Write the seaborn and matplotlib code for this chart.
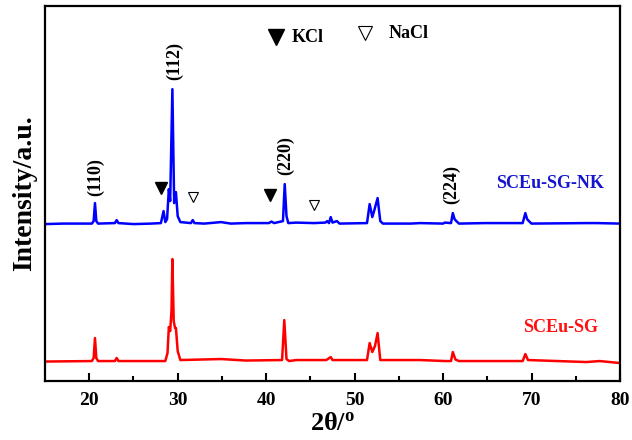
import numpy as np
import pandas as pd
import matplotlib
matplotlib.use("Agg")
import matplotlib.pyplot as plt
import seaborn as sns

# XRD patterns (2theta in degrees, intensity in a.u.)
nk_2theta = [15.0, 17.0, 20.3, 20.5, 20.65, 20.8, 21.0, 22.9, 23.1, 23.3, 25.0, 27.0,
             28.1, 28.4, 28.6, 28.8, 29.0, 29.15, 29.4, 29.6, 29.8, 30.0, 30.3, 31.5,
             31.7, 31.9, 33.0, 34.9, 36.0, 37.7, 40.3, 40.6, 40.9, 41.9, 42.1, 42.3,
             42.5, 43.4, 45.4, 46.7, 46.9, 47.1, 47.3, 47.5, 48.0, 48.3, 51.4, 51.7,
             52.0, 52.2, 52.6, 52.9, 53.2, 56.3, 57.4, 60.0, 60.2, 60.9, 61.1, 61.3,
             61.5, 61.8, 64.7, 69.0, 69.3, 69.5, 69.7, 70.0, 76.2, 77.4, 80.0]
nk_int = [157, 157.5, 157.5, 160, 178, 160, 157.5, 158, 161, 158, 157, 157.5,
          158, 170, 159, 162, 192, 180, 292, 178, 189, 165, 159, 158,
          161, 158, 157.5, 159, 157.5, 158, 158, 159.5, 158, 160, 197, 165,
          158, 158.5, 158, 158.5, 160, 158, 164, 158.5, 160, 157.5, 158, 177,
          164, 170, 183, 160, 157.5, 157.5, 158, 157.5, 158.5, 158, 168, 162,
          160, 157.5, 158, 158, 168, 162, 160, 157.5, 158, 158, 157.5]

sg_2theta = [15.0, 20.3, 20.5, 20.65, 20.8, 21.0, 22.9, 23.1, 23.3, 28.6, 28.85, 29.0,
             29.15, 29.3, 29.4, 29.55, 29.7, 29.8, 30.0, 30.3, 34.9, 37.7, 41.8, 42.05,
             42.3, 42.6, 43.4, 46.8, 47.3, 47.5, 48.1, 51.4, 51.7, 52.0, 52.3, 52.6,
             52.9, 57.4, 60.2, 60.9, 61.1, 61.4, 61.8, 69.0, 69.3, 69.6, 76.2, 77.7, 80.0]
sg_int = [19.5, 20, 23, 43, 23, 20, 20, 23, 20, 20, 28, 54,
          50, 70, 122, 60, 53, 53, 30, 21, 22, 20.5, 21, 61,
          22, 20, 21, 21, 24, 21, 21, 21, 38, 29, 35, 48,
          21, 21, 20, 20, 29, 21.5, 20, 20, 27, 21, 19, 20, 18]

# peak labels and phase markers
hkl_labels = ["(110)", "(112)", "(220)", "(224)"]
hkl_pos = [(20.75, 204), (29.65, 320), (42.2, 226), (61.0, 197)]
kcl_pos = [(28.1, 193), (40.4, 186)]
nacl_pos = [(31.7, 184), (45.4, 176)]

df = pd.concat([
    pd.DataFrame({"2theta": nk_2theta, "I": nk_int, "sample": "SCEu-SG-NK"}),
    pd.DataFrame({"2theta": sg_2theta, "I": sg_int, "sample": "SCEu-SG"}),
])

sns.set_style("ticks")
plt.rcParams['font.family'] = ['Liberation Serif', 'DejaVu Serif']
plt.rcParams['font.weight'] = 'bold'
plt.rcParams['mathtext.default'] = 'regular'
plt.rcParams['text.color'] = 'black'
plt.rcParams['axes.labelcolor'] = 'black'
plt.rcParams['xtick.color'] = 'black'
plt.rcParams['axes.edgecolor'] = 'black'

fig = plt.figure(figsize=(6.32, 4.40), dpi=100)
ax = fig.add_axes([0.0712, 0.134, 0.9098, 0.852])

sns.lineplot(data=df, x="2theta", y="I", hue="sample", sort=False,
             palette={"SCEu-SG-NK": "#0000ff", "SCEu-SG": "#ff0000"},
             linewidth=1.8, legend=False, ax=ax, estimator=None)

ax.set_xlim(15, 80)
ax.set_ylim(0, 375)
ax.set_yticks([])
ax.set_xticks(range(20, 81, 10))
ax.set_xticks(range(25, 80, 10), minor=True)
ax.tick_params(axis='x', which='major', direction='in', length=6, width=1.5,
               labelsize=14, pad=8)
ax.tick_params(axis='x', which='minor', direction='in', length=3.5, width=1.5)
for lab in ax.get_xticklabels():
    lab.set_fontweight('bold')
for s in ax.spines.values():
    s.set_linewidth(1.6)

ax.set_xlabel("2θ/$^\\mathregular{o}$", fontsize=19, fontweight='bold', labelpad=2)
ax.set_ylabel("Intensity/a.u.", fontsize=20, fontweight='bold', labelpad=6)

for lab, (x, y) in zip(hkl_labels, hkl_pos):
    ax.text(x, y, lab, rotation=90, ha='center', va='center', fontsize=13,
            fontweight='bold')

ax.plot([p[0] for p in kcl_pos], [p[1] for p in kcl_pos], linestyle='none',
        marker='v', markersize=9, color='black')
ax.plot([p[0] for p in nacl_pos], [p[1] for p in nacl_pos], linestyle='none',
        marker='v', markersize=7.5, markerfacecolor='white',
        markeredgecolor='black', markeredgewidth=0.8)

# legend for the phases
ax.plot([41.1], [344], marker='v', markersize=11, color='black')
ax.text(42.9, 344, "KCl", ha='left', va='center', fontsize=13, fontweight='bold')
ax.plot([51.2], [348], marker='v', markersize=10, markerfacecolor='white',
        markeredgecolor='black', markeredgewidth=0.8)
ax.text(53.8, 348, "NaCl", ha='left', va='center', fontsize=13, fontweight='bold')

ax.text(72.1, 198, "SCEu-SG-NK", color='#1515d0', ha='center', va='center',
        fontsize=13, fontweight='bold')
ax.text(73.3, 54, "SCEu-SG", color='#ff1010', ha='center', va='center',
        fontsize=13, fontweight='bold')

fig.savefig("out.png", dpi=100)
